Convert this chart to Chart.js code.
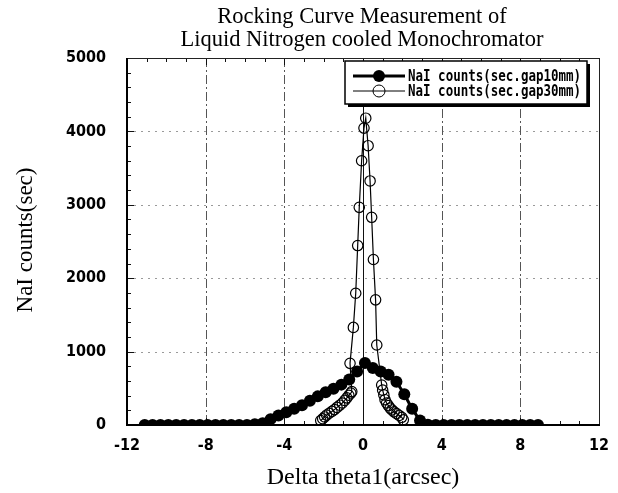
<!DOCTYPE html>
<html>
<head>
<meta charset="utf-8">
<script src="https://cdn.jsdelivr.net/npm/chart.js@4.4.1/dist/chart.umd.min.js"></script>
<style>
  html, body { margin: 0; padding: 0; background: #fff; }
  #wrap { width: 618px; height: 493px; }
</style>
</head>
<body>
<div id="wrap"><canvas id="rocking" width="618" height="493"></canvas></div>
<script>
// tick labels
const xTicks = [-12, -8, -4, 0, 4, 8, 12];
const yTicks = [0, 1000, 2000, 3000, 4000, 5000];

// NaI counts (sec.gap10mm)
const gap10X = [-11.1, -10.7, -10.3, -9.9, -9.5, -9.1, -8.7, -8.3, -7.9, -7.5,
                -7.1, -6.7, -6.3, -5.9, -5.5, -5.1, -4.7, -4.3, -3.9, -3.5,
                -3.1, -2.7, -2.3, -1.9, -1.5, -1.1, -0.7, -0.3, 0.1, 0.5,
                0.9, 1.3, 1.7, 2.1, 2.5, 2.9, 3.3, 3.7, 4.1, 4.5,
                4.9, 5.3, 5.7, 6.1, 6.5, 6.9, 7.3, 7.7, 8.1, 8.5, 8.9];
const gap10Y = [0, 0, 0, 0, 0, 0, 0, 0, 0, 0,
                0, 0, 0, 0, 10, 25, 80, 130, 175, 220,
                270, 330, 390, 445, 495, 550, 620, 730, 845, 775,
                730, 685, 590, 420, 220, 60, 5, 0, 0, 0,
                0, 0, 0, 0, 0, 0, 0, 0, 0, 0, 0];

// NaI counts (sec.gap30mm)
const gap30X = [-2.15, -2.05, -1.95, -1.85, -1.72, -1.58, -1.45, -1.32, -1.18, -1.05,
                -0.93, -0.82, -0.72, -0.62, -0.57, -0.66, -0.49, -0.37, -0.27, -0.19,
                -0.07, 0.05, 0.14, 0.26, 0.36, 0.44, 0.53, 0.64, 0.7, 0.95,
                1.0, 1.06, 1.12, 1.2, 1.29, 1.38, 1.47, 1.58, 1.71, 1.84, 1.97, 2.05];
const gap30Y = [60, 85, 110, 135, 160, 185, 210, 240, 270, 300,
                335, 370, 405, 435, 455, 840, 1330, 1795, 2445, 2965,
                3600, 4045, 4180, 3805, 3325, 2830, 2255, 1705, 1090, 545,
                475, 410, 345, 300, 265, 230, 205, 180, 155, 130, 105, 70];

const toPoints = (xs, ys) => xs.map((x, i) => ({ x: x, y: ys[i] }));

const frame = {
    id: "frame",
    beforeDatasetsDraw(chart) {
        const { ctx, chartArea: a, scales } = chart;
        const xs = scales.x, ys = scales.y;
        ctx.save();

        // horizontal dotted grid
        ctx.strokeStyle = "#9a9a9a";
        ctx.lineWidth = 1;
        ctx.setLineDash([2, 5]);
        yTicks.slice(1, -1).forEach(v => {
            const py = Math.round(ys.getPixelForValue(v)) + 0.5;
            ctx.beginPath(); ctx.moveTo(a.left, py); ctx.lineTo(a.right, py); ctx.stroke();
        });

        // vertical dash-dot grid
        ctx.strokeStyle = "#555";
        ctx.setLineDash([9, 3, 2, 3]);
        xTicks.forEach(v => {
            if (v === 0 || Math.abs(v) === 12) return;
            const px = Math.round(xs.getPixelForValue(v)) + 0.5;
            ctx.beginPath(); ctx.moveTo(px, a.top); ctx.lineTo(px, a.bottom); ctx.stroke();
        });

        // solid zero line
        ctx.setLineDash([]);
        ctx.strokeStyle = "#111";
        const p0 = Math.round(xs.getPixelForValue(0)) + 0.5;
        ctx.beginPath(); ctx.moveTo(p0, a.top); ctx.lineTo(p0, a.bottom); ctx.stroke();

        // inner ticks
        ctx.lineWidth = 1;
        for (let v = 0; v <= 5000; v += 200) {
            const py = Math.round(ys.getPixelForValue(v)) + 0.5;
            const len = v % 1000 === 0 ? 7 : 4;
            ctx.beginPath(); ctx.moveTo(a.left, py); ctx.lineTo(a.left + len, py); ctx.stroke();
        }
        for (let v = -12; v <= 12; v += 1) {
            const px = Math.round(xs.getPixelForValue(v)) + 0.5;
            const len = v % 4 === 0 ? 7 : 4;
            ctx.beginPath(); ctx.moveTo(px, a.bottom); ctx.lineTo(px, a.bottom - len); ctx.stroke();
            ctx.beginPath(); ctx.moveTo(px, a.top); ctx.lineTo(px, a.top + len); ctx.stroke();
        }

        // frame
        ctx.strokeStyle = "#222";
        ctx.lineWidth = 1;
        ctx.beginPath();
        ctx.moveTo(a.left, a.top + 0.5); ctx.lineTo(a.right + 0.5, a.top + 0.5);
        ctx.lineTo(a.right + 0.5, a.bottom);
        ctx.stroke();
        ctx.strokeStyle = "#000";
        ctx.lineWidth = 2;
        ctx.beginPath();
        ctx.moveTo(a.left, a.top); ctx.lineTo(a.left, a.bottom); ctx.lineTo(a.right + 1, a.bottom);
        ctx.stroke();
        ctx.restore();
    },
    afterDraw(chart) {
        const { ctx, chartArea: a } = chart;
        ctx.save();
        const cx = (a.left + a.right) / 2;

        // titles
        ctx.fillStyle = "#000";
        ctx.textAlign = "center";
        ctx.textBaseline = "alphabetic";
        ctx.font = "22.5px 'Liberation Serif'";
        ctx.fillText("Rocking Curve Measurement of", cx - 1, 23);
        ctx.fillText("Liquid Nitrogen cooled Monochromator", cx - 1, 46);
        ctx.font = "24px 'Liberation Serif'";
        ctx.fillText("Delta theta1(arcsec)", cx, 484);
        ctx.save();
        ctx.translate(32, 240);
        ctx.rotate(-Math.PI / 2);
        ctx.font = "23px 'Liberation Serif'";
        ctx.fillText("NaI counts(sec)", 0, 0);
        ctx.restore();

        // legend box
        const bx = 345, by = 61, bw = 242, bh = 43;
        ctx.fillStyle = "#000";
        ctx.fillRect(bx + 3, by + 3, bw, bh);
        ctx.fillStyle = "#fff";
        ctx.fillRect(bx, by, bw, bh);
        ctx.strokeStyle = "#000";
        ctx.lineWidth = 1.5;
        ctx.strokeRect(bx, by, bw, bh);

        const rows = [
            { y: 76, text: "NaI counts(sec.gap10mm)", lw: 3, filled: true },
            { y: 91, text: "NaI counts(sec.gap30mm)", lw: 1, filled: false }
        ];
        rows.forEach(r => {
            ctx.lineWidth = r.lw;
            ctx.beginPath(); ctx.moveTo(353, r.y); ctx.lineTo(405, r.y); ctx.stroke();
            ctx.beginPath(); ctx.arc(379, r.y, 6, 0, Math.PI * 2);
            if (r.filled) { ctx.fillStyle = "#000"; ctx.fill(); }
            else { ctx.fillStyle = "#fff"; ctx.fill(); ctx.lineWidth = 1; ctx.stroke();
                   ctx.beginPath(); ctx.moveTo(373, r.y); ctx.lineTo(385, r.y); ctx.stroke(); }
            ctx.save();
            ctx.translate(408, r.y + 5);
            ctx.scale(1, 1.2);
            ctx.fillStyle = "#000";
            ctx.textAlign = "left";
            ctx.font = "bold 12.5px 'DejaVu Sans Mono'";
            ctx.fillText(r.text, 0, 0);
            ctx.restore();
        });
        ctx.restore();
    }
};

const tickFont = { family: "'Liberation Sans Narrow', 'DejaVu Sans Condensed'", size: 16, weight: "bold" };

new Chart(document.getElementById("rocking"), {
    type: "scatter",
    data: {
        datasets: [{
            label: "NaI counts(sec.gap10mm)",
            data: toPoints(gap10X, gap10Y),
            showLine: true,
            borderColor: "#000",
            borderWidth: 3,
            pointRadius: 6,
            pointBackgroundColor: "#000",
            pointBorderColor: "#000",
            pointBorderWidth: 0,
            order: 2
        }, {
            label: "NaI counts(sec.gap30mm)",
            data: toPoints(gap30X, gap30Y),
            showLine: true,
            borderColor: "#000",
            borderWidth: 1.2,
            pointRadius: 5.2,
            pointBackgroundColor: "rgba(255,255,255,0)",
            pointBorderColor: "#000",
            pointBorderWidth: 1.2,
            order: 1
        }]
    },
    options: {
        responsive: false,
        animation: false,
        layout: { padding: { top: 58, right: 19, left: 0, bottom: 0 } },
        plugins: { legend: { display: false }, tooltip: { enabled: false } },
        scales: {
            x: {
                type: "linear",
                min: -12, max: 12,
                afterBuildTicks: s => { s.ticks = xTicks.map(v => ({ value: v })); },
                afterFit: s => { s.height = 68; },
                grid: { display: false },
                border: { display: false },
                ticks: { padding: 3, color: "#000", font: tickFont, callback: v => String(v) }
            },
            y: {
                type: "linear",
                min: 0, max: 5000,
                afterBuildTicks: s => { s.ticks = yTicks.map(v => ({ value: v })); },
                afterFit: s => { s.width = 127; },
                grid: { display: false },
                border: { display: false },
                ticks: { padding: 13, color: "#000", font: tickFont, callback: v => String(v) }
            }
        }
    },
    plugins: [frame]
});
</script>
</body>
</html>
